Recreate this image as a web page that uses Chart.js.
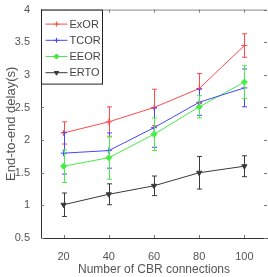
<!DOCTYPE html>
<html>
<head>
<meta charset="utf-8">
<script src="https://cdn.jsdelivr.net/npm/chart.js@4"></script>
<style>
  html, body { margin: 0; padding: 0; background: #fff; overflow: hidden; }
  #wrap { width: 272px; height: 277px; }
</style>
</head>
<body>
<div id="wrap"><canvas id="delayChart" width="272" height="277"></canvas></div>
<script>
// values
const connections = [20, 40, 60, 80, 100];
const xTicks = [20, 40, 60, 80, 100];
const yTicks = [0.5, 1, 1.5, 2, 2.5, 3, 3.5, 4];

const exorDelay = [2.11, 2.28, 2.50, 2.79, 3.45];
const exorErr   = [0.17, 0.23, 0.28, 0.23, 0.18];
const tcorDelay = [1.80, 1.84, 2.19, 2.58, 2.80];
const tcorErr   = [0.32, 0.27, 0.30, 0.20, 0.29];
const eeorDelay = [1.60, 1.73, 2.09, 2.51, 2.89];
const eeorErr   = [0.25, 0.33, 0.25, 0.17, 0.25];
const ertoDelay = [1.01, 1.17, 1.30, 1.50, 1.60];
const ertoErr   = [0.18, 0.16, 0.15, 0.25, 0.16];

const seriesNames = ['ExOR', 'TCOR', 'EEOR', 'ERTO'];
const seriesColors = ['#ff4a4a', '#4646ff', '#44ee44', '#3a3a3a'];

const sans = '"Liberation Sans", Arial, sans-serif';

function makeSet(i, values, errs, style, rot) {
    return {
        label: seriesNames[i],
        data: connections.map((c, k) => ({ x: c, y: values[k] })),
        errors: errs,
        borderColor: seriesColors[i],
        backgroundColor: seriesColors[i],
        borderWidth: 1,
        pointStyle: style,
        pointRotation: rot || 0,
        pointRadius: 3,
        pointBorderWidth: 1,
        tension: 0
    };
}

// error bars, inward ticks, frame and boxed legend
const extras = {
    id: 'extras',
    afterDatasetsDraw(chart) {
        const ctx = chart.ctx;
        const xs = chart.scales.x, ys = chart.scales.y;
        ctx.save();
        chart.data.datasets.forEach(ds => {
            ctx.strokeStyle = ds.borderColor;
            ctx.lineWidth = 1;
            ds.data.forEach((p, k) => {
                const px = Math.round(xs.getPixelForValue(p.x)) + 0.5;
                const top = ys.getPixelForValue(p.y + ds.errors[k]);
                const bot = ys.getPixelForValue(p.y - ds.errors[k]);
                ctx.beginPath();
                ctx.moveTo(px, top); ctx.lineTo(px, bot);
                ctx.moveTo(px - 2.5, top); ctx.lineTo(px + 2.5, top);
                ctx.moveTo(px - 2.5, bot); ctx.lineTo(px + 2.5, bot);
                ctx.stroke();
            });
        });
        ctx.restore();
    },
    afterDraw(chart) {
        const ctx = chart.ctx;
        const a = chart.chartArea;
        const xs = chart.scales.x, ys = chart.scales.y;
        ctx.save();
        ctx.lineWidth = 1;
        // top frame line
        ctx.strokeStyle = '#888';
        ctx.beginPath();
        ctx.moveTo(a.left, a.top + 0.5); ctx.lineTo(a.right, a.top + 0.5);
        ctx.stroke();
        // inward ticks
        ctx.strokeStyle = '#777';
        ctx.beginPath();
        xTicks.forEach(v => {
            const px = Math.round(xs.getPixelForValue(v)) + 0.5;
            ctx.moveTo(px, a.bottom); ctx.lineTo(px, a.bottom - 3);
            ctx.moveTo(px, a.top); ctx.lineTo(px, a.top + 3);
        });
        yTicks.forEach(v => {
            const py = Math.round(ys.getPixelForValue(v)) + 0.5;
            ctx.moveTo(a.left, py); ctx.lineTo(a.left + 3, py);
            ctx.moveTo(a.right, py); ctx.lineTo(a.right - 3, py);
        });
        ctx.stroke();

        // legend box
        const bx = a.left + 0.5, by = a.top + 0.5, bw = 61, bh = 74;
        ctx.fillStyle = '#fff';
        ctx.fillRect(bx, by, bw, bh);
        ctx.strokeStyle = '#222';
        ctx.strokeRect(bx, by, bw, bh);
        ctx.font = '11px ' + sans;
        ctx.textBaseline = 'middle';
        chart.data.datasets.forEach((ds, i) => {
            const ry = a.top + 14.5 + i * 16.2;
            ctx.strokeStyle = ds.borderColor;
            ctx.beginPath();
            ctx.moveTo(bx + 4, ry); ctx.lineTo(bx + 26, ry);
            ctx.stroke();
            Chart.helpers.drawPoint(ctx, {
                pointStyle: ds.pointStyle, rotation: ds.pointRotation,
                radius: 2.5, borderWidth: 1
            }, bx + 15, ry);
            ctx.fillStyle = ds.borderColor;
            ctx.fill();
            ctx.fillStyle = '#444';
            ctx.fillText(ds.label, bx + 28, ry + 0.5);
        });
        ctx.restore();
    }
};

new Chart(document.getElementById('delayChart'), {
    type: 'line',
    data: {
        datasets: [
            makeSet(0, exorDelay, exorErr, 'cross'),
            makeSet(1, tcorDelay, tcorErr, 'cross'),
            makeSet(2, eeorDelay, eeorErr, 'rectRot'),
            makeSet(3, ertoDelay, ertoErr, 'triangle', 180)
        ]
    },
    options: {
        responsive: false,
        animation: false,
        layout: { padding: { top: 8, right: 1, left: 0, bottom: 0 } },
        plugins: { legend: { display: false }, tooltip: { enabled: false } },
        scales: {
            x: {
                type: 'linear',
                min: 10,
                max: 110,
                afterBuildTicks: s => { s.ticks = xTicks.map(v => ({ value: v })); },
                afterFit: s => { s.height = 39; },
                grid: { display: false },
                border: { display: true, color: '#333', width: 1 },
                ticks: { color: '#555', font: { size: 11, family: sans }, padding: 4 },
                title: {
                    display: true,
                    text: 'Number of CBR connections',
                    color: '#555',
                    font: { size: 12, family: sans },
                    padding: { top: 0, bottom: 0 }
                }
            },
            y: {
                min: 0.5,
                max: 4,
                afterBuildTicks: s => { s.ticks = yTicks.map(v => ({ value: v })); },
                afterFit: s => { s.width = 41; },
                grid: { display: false },
                border: { display: true, color: '#333', width: 1 },
                ticks: {
                    color: '#555',
                    font: { size: 11, family: sans },
                    padding: 3,
                    callback: v => String(v)
                },
                title: {
                    display: true,
                    text: 'End-to-end delay(s)',
                    color: '#555',
                    font: { size: 13, family: sans },
                    padding: { top: 4, bottom: 0 }
                }
            }
        }
    },
    plugins: [extras]
});
</script>
</body>
</html>
